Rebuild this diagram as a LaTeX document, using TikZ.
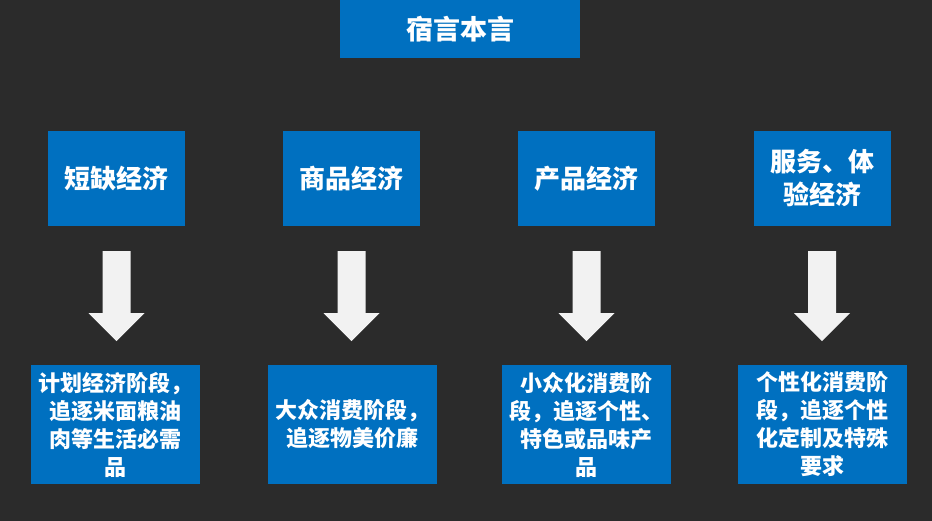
\documentclass[tikz,border=0pt]{standalone}
\usepackage{fontspec}
\setmainfont{Noto Sans CJK SC}
\usetikzlibrary{calc,positioning}

\definecolor{bgdark}{HTML}{2B2B2B}
\definecolor{boxblue}{HTML}{0070C0}
\definecolor{arrowgray}{HTML}{F2F2F2}

\tikzset{
  bluebox/.style={fill=boxblue,text=white,inner sep=0pt,align=center,font=\bfseries},
  stagebox/.style={bluebox,minimum width=137pt,minimum height=95pt,
    font=\fontsize{26}{33}\selectfont\bfseries},
  descbox/.style={bluebox,minimum width=169pt,minimum height=119pt,
    font=\fontsize{22}{28}\selectfont\bfseries},
}

\begin{document}
\begin{tikzpicture}[x=1pt,y=-1pt]

			\fill[bgdark] (0,0) rectangle (932,521);
			\useasboundingbox (0,0) rectangle (932,521);

			% title
			\node[bluebox,minimum width=240pt,minimum height=58pt,
			  font=\fontsize{27}{33}\selectfont\bfseries] (title) at (460,29) {宿言本言};

			% stages
			\node[stagebox] (top1) at (116.5,178.5) {短缺经济};
			\node[stagebox] (top2) at (351.5,178.5) {商品经济};
			\node[stagebox] (top3) at (586.5,178.5) {产品经济};
			\node[stagebox] (top4) at (822,178.5) {服务、体\\验经济};

			% descriptions
			\node[descbox] (bot1) at (115.5,424.5) {计划经济阶段，\\追逐米面粮油\\肉等生活必需\\品};
			\node[descbox] (bot2) at (352,424.5) {大众消费阶段，\\追逐物美价廉};
			\node[descbox] (bot3) at (586.5,424.5) {小众化消费阶\\段，追逐个性、\\特色或品味产\\品};
			\node[descbox] (bot4) at (822,424.5) {个性化消费阶\\段，追逐个性\\化定制及特殊\\要求};

			% block arrows
			\foreach \i in {1,...,4} {
			  \fill[arrowgray] ($(top\i.south)+(-14,25)$) -- ($(top\i.south)+(14,25)$)
			    -- ($(top\i.south)+(14,87)$) -- ($(top\i.south)+(28,87)$)
			    -- ($(top\i.south)+(0,115)$) -- ($(top\i.south)+(-28,87)$)
			    -- ($(top\i.south)+(-14,87)$) -- cycle;
			}

		\end{tikzpicture}
\end{document}
